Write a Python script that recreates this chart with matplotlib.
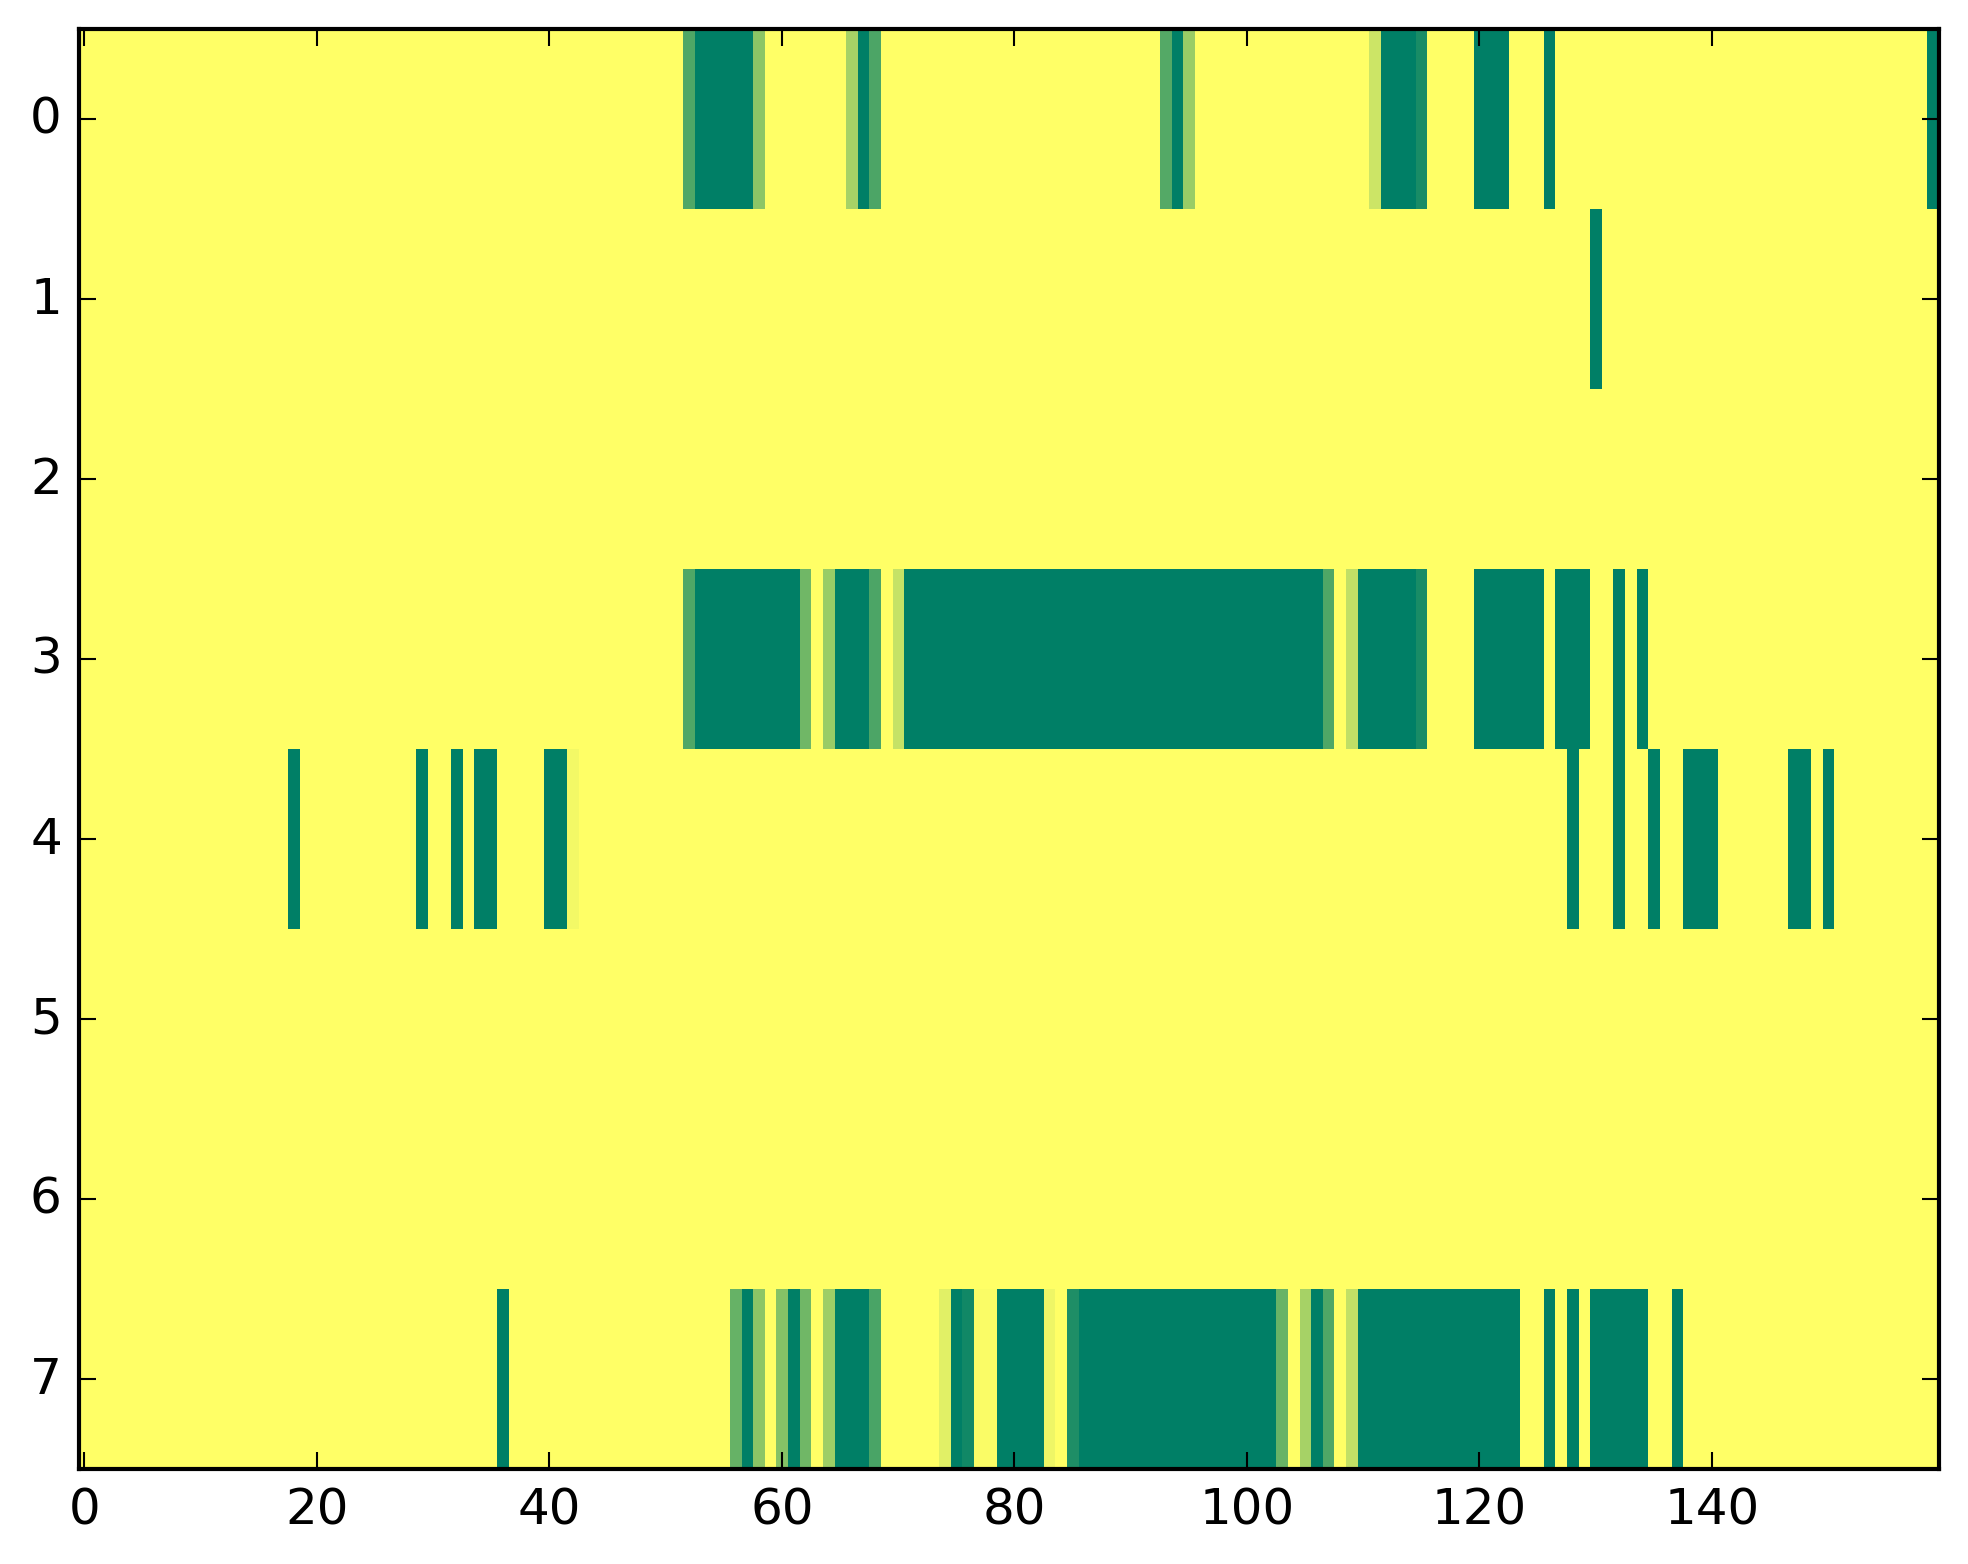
import matplotlib
matplotlib.use('Agg')
import matplotlib.pyplot as plt
import numpy as np

plt.style.use('classic')

n_cols = 160
n_rows = 8

# (first column, last column, value) for every cell that is not 1.0
row0 = [(52, 52, 0.31), (53, 57, 0), (58, 58, 0.55), (66, 66, 0.65), (67, 67, 0),
        (68, 68, 0.30), (93, 93, 0.33), (94, 94, 0), (95, 95, 0.60), (111, 111, 0.80),
        (112, 114, 0), (115, 115, 0.10), (120, 122, 0), (126, 126, 0), (159, 159, 0)]
row1 = [(130, 130, 0)]
row2 = []
row3 = [(52, 52, 0.31), (53, 61, 0), (62, 62, 0.44), (64, 64, 0.60), (65, 67, 0),
        (68, 68, 0.30), (70, 70, 0.77), (71, 106, 0), (107, 107, 0.31), (109, 109, 0.75),
        (110, 114, 0), (115, 115, 0.10), (120, 125, 0), (127, 129, 0), (132, 132, 0),
        (134, 134, 0)]
row4 = [(18, 18, 0), (29, 29, 0), (32, 32, 0), (34, 35, 0), (40, 41, 0), (42, 42, 0.95),
        (128, 128, 0), (132, 132, 0), (135, 135, 0), (138, 140, 0), (147, 148, 0),
        (150, 150, 0)]
row5 = []
row6 = []
row7 = [(36, 36, 0), (56, 56, 0.40), (57, 57, 0), (58, 58, 0.55), (60, 60, 0.52),
        (61, 61, 0), (62, 62, 0.44), (64, 64, 0.62), (65, 67, 0), (68, 68, 0.29),
        (74, 74, 0.88), (75, 75, 0), (76, 76, 0.07), (77, 78, 0.98), (79, 82, 0),
        (83, 83, 0.93), (85, 85, 0.12), (86, 102, 0), (103, 103, 0.41), (105, 105, 0.65),
        (106, 106, 0), (107, 107, 0.31), (109, 109, 0.76), (110, 123, 0), (126, 126, 0),
        (128, 128, 0), (130, 134, 0), (137, 137, 0)]

rows = [row0, row1, row2, row3, row4, row5, row6, row7]

grid = np.ones((n_rows, n_cols))
for r, segs in enumerate(rows):
    for a, b, v in segs:
        grid[r, a:b + 1] = v

fig = plt.figure(figsize=(8, 6))
ax = fig.add_subplot(111)
ax.imshow(grid, cmap='summer', aspect='auto', interpolation='nearest')

plt.savefig('out.png', dpi=300, bbox_inches='tight')
